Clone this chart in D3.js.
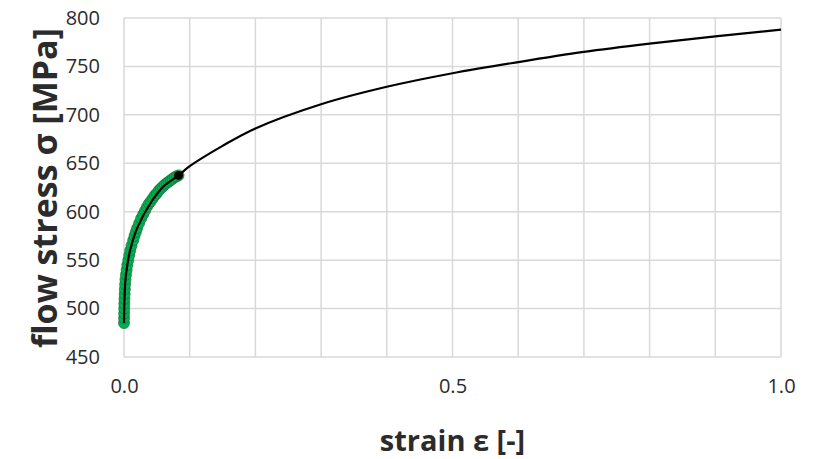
<!DOCTYPE html>
<html>
<head>
<meta charset="utf-8">
<script src="https://cdn.jsdelivr.net/npm/d3@7"></script>
<style>
  body { margin: 0; background: #fff; }
  text { font-family: "Open Sans", sans-serif; fill: #2b2b2b; }
</style>
</head>
<body>
<div id="chart"></div>
<script>
// measured points (green markers)
const expStrain = [0, 0.0001, 0.0002, 0.0003, 0.0005, 0.0007, 0.001, 0.0013, 0.0017, 0.0022,
  0.003, 0.004, 0.005, 0.0065, 0.008, 0.0095, 0.0115, 0.014, 0.016, 0.018, 0.020, 0.023,
  0.026, 0.029, 0.032, 0.035, 0.038, 0.041, 0.044, 0.047, 0.050, 0.053, 0.056, 0.059,
  0.062, 0.065, 0.068, 0.071, 0.074, 0.077, 0.080, 0.083];
const expStress = [485, 490, 495, 500, 505, 510, 515, 520, 525, 530,
  535, 540, 545, 550, 555, 560, 565, 570.5, 575, 579, 583, 588,
  593, 597, 601, 605, 608.5, 611, 614, 617, 619, 622, 624, 626,
  628, 629.5, 631, 632.5, 634, 635.5, 636.5, 637.5];

// fitted / extrapolated curve (black line)
const fitStrain = [0, 0.0005, 0.002, 0.005, 0.01, 0.02, 0.04, 0.06, 0.083, 0.1,
  0.15, 0.2, 0.3, 0.4, 0.5, 0.6, 0.7, 0.8, 0.9, 1.0];
const fitStress = [485, 505, 528, 545, 562, 583, 608.5, 626, 637.5, 647,
  668, 686, 711, 729, 743, 754.5, 765, 773.5, 781, 788];

const xTickLabels = [0, 0.5, 1.0];
const yTicks = [450, 500, 550, 600, 650, 700, 750, 800];
const xGrid = d3.range(0, 1.0001, 0.1);

const width = 821, height = 459;
const margin = { top: 18, right: 40, bottom: 102, left: 124 };

const svg = d3.select('#chart').append('svg')
  .attr('width', width)
  .attr('height', height);

const x = d3.scaleLinear().domain([0, 1]).range([margin.left, width - margin.right]);
const y = d3.scaleLinear().domain([450, 800]).range([height - margin.bottom, margin.top]);

const grid = svg.append('g').attr('class', 'grid')
  .attr('stroke', '#d9d9d9').attr('stroke-width', 1.5);

grid.selectAll('.hgrid').data(yTicks).enter().append('line')
  .attr('x1', x(0)).attr('x2', x(1))
  .attr('y1', d => y(d)).attr('y2', d => y(d));

grid.selectAll('.vgrid').data(xGrid).enter().append('line')
  .attr('y1', y(450)).attr('y2', y(800))
  .attr('x1', d => x(d)).attr('x2', d => x(d));

// y axis labels
const yAxis = svg.append('g')
  .attr('transform', `translate(${x(0)},0)`)
  .call(d3.axisLeft(y).tickValues(yTicks).tickSize(0).tickPadding(24));
yAxis.select('.domain').remove();
yAxis.selectAll('text').style('font-size', '20px').attr('fill', '#2b2b2b');

// x axis labels
const xAxis = svg.append('g')
  .attr('transform', `translate(0,${y(450)})`)
  .call(d3.axisBottom(x).tickValues(xTickLabels).tickFormat(d3.format('.1f')).tickSize(0).tickPadding(22));
xAxis.select('.domain').remove();
xAxis.selectAll('text').style('font-size', '20px').attr('fill', '#2b2b2b');

// measured markers
const expData = expStrain.map((d, i) => [d, expStress[i]]);
svg.append('g').selectAll('circle').data(expData).enter().append('circle')
  .attr('cx', d => x(d[0]))
  .attr('cy', d => y(d[1]))
  .attr('r', 5.5)
  .attr('fill', '#00b050')
  .attr('stroke', '#1f6e3a')
  .attr('stroke-width', 0.7);

// fitted curve
const fitData = fitStrain.map((d, i) => [d, fitStress[i]]);
const line = d3.line()
  .x(d => x(d[0]))
  .y(d => y(d[1]))
  .curve(d3.curveCatmullRom.alpha(0.5));

svg.append('path')
  .datum(fitData)
  .attr('d', line)
  .attr('fill', 'none')
  .attr('stroke', '#000')
  .attr('stroke-width', 2.2);

const last = expData[expData.length - 1];
svg.append('circle')
  .attr('cx', x(last[0]))
  .attr('cy', y(last[1]))
  .attr('r', 4.5)
  .attr('fill', '#000');

// axis titles
svg.append('text')
  .attr('x', x(0.5))
  .attr('y', 451)
  .attr('text-anchor', 'middle')
  .style('font-size', '29px')
  .style('font-weight', 'bold')
  .text('strain ε [-]');

svg.append('text')
  .attr('transform', `translate(57,188) rotate(-90)`)
  .attr('text-anchor', 'middle')
  .style('font-size', '34px')
  .style('font-weight', 'bold')
  .text('flow stress σ [MPa]');
</script>
</body>
</html>
